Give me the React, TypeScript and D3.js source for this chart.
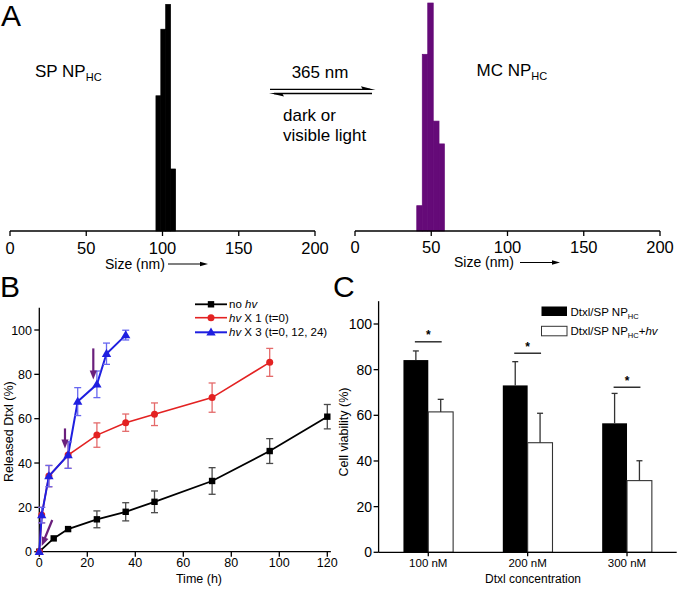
import React from "react";
import * as d3 from "d3";

// ---------- Panel A: size distributions ----------
const sizeTicks = [0, 50, 100, 150, 200];
const spEdges = [95.7, 98.9, 102.1, 105.3, 108.6];
const spCounts = [59.3, 88.5, 99.4, 27.2];
const mcEdges = [40.5, 44.1, 47.7, 51.3, 55.1, 58.6];
const mcCounts = [11.1, 77.5, 100, 48.2, 38.2];

// ---------- Panel B: release ----------
const timeTicks = [0, 20, 40, 60, 80, 100, 120];
const releaseTicks = [0, 20, 40, 60, 80, 100];
const noHvTime = [0, 6, 12, 24, 36, 48, 72, 96, 120];
const noHvValue = [0, 6.0, 10.2, 14.6, 18.0, 22.5, 31.9, 45.4, 60.9];
const noHvErr = [0, 0.8, 0.8, 3.8, 4.1, 4.9, 6.0, 5.6, 5.5];
const hv1Time = [0, 1, 4, 12, 24, 36, 48, 72, 96];
const hv1Value = [0, 16.5, 34.1, 43.6, 52.6, 58.2, 62.0, 69.5, 85.4];
const hv1Err = [0, 3.5, 4.8, 6.0, 5.5, 3.9, 5.1, 6.6, 6.3];
const hv3Time = [0, 1, 4, 12, 16, 24, 28, 36];
const hv3Value = [0, 16.5, 34.1, 43.6, 67.7, 75.5, 89.3, 97.7];
const hv3Err = [0, 3.5, 4.8, 6.0, 6.3, 6.0, 4.8, 2.2];
const irradFromT = [5.4, 10.7, 22.5];
const irradFromV = [14.3, 55.6, 91.7];
const irradToT = [1.0, 10.7, 22.5];
const irradToV = [2.6, 46.6, 77.7];

// ---------- Panel C: viability ----------
const concLabels = ["100 nM", "200 nM", "300 nM"];
const viabTicks = [0, 20, 40, 60, 80, 100];
const viabDark = [84.2, 73.1, 56.5];
const viabDarkErr = [4.0, 10.4, 13.1];
const viabHv = [61.5, 48.0, 31.4];
const viabHvErr = [5.5, 12.9, 8.7];
const sigLevel = [92.2, 87.2, 72.3];

const FONT = "'Liberation Sans', Arial, Helvetica, sans-serif";
const PURPLE = "#650a78";
const ARROW = "#6a1f7c";

function Arrow({ x1, y1, x2, y2, color, w = 2.2, head = 9, hw = 3.8 }: any) {
  const dx = x2 - x1, dy = y2 - y1;
  const L = Math.sqrt(dx * dx + dy * dy);
  const ux = dx / L, uy = dy / L;
  const bx = x2 - ux * head, by = y2 - uy * head;
  const px = -uy, py = ux;
  return (
    <g>
      <line x1={x1} y1={y1} x2={bx + ux * 1} y2={by + uy * 1} stroke={color} strokeWidth={w} />
      <polygon
        points={`${x2},${y2} ${bx + px * hw},${by + py * hw} ${bx - px * hw},${by - py * hw}`}
        fill={color}
      />
    </g>
  );
}

export default function App() {
  const xA1 = d3.scaleLinear().domain([0, 200]).range([10, 315]);
  const xA2 = d3.scaleLinear().domain([0, 200]).range([355, 660]);
  const yA = d3.scaleLinear().domain([0, 100]).range([231, 3]);
  const xB = d3.scaleLinear().domain([0, 120]).range([39.3, 327.3]);
  const yB = d3.scaleLinear().domain([0, 100]).range([551.7, 330]);
  const xC = d3.scaleLinear().domain([0.5, 3.5]).range([378.6, 676.7]);
  const yC = d3.scaleLinear().domain([0, 100]).range([552.3, 324]);

  const line = d3
    .line<[number, number]>()
    .x((d) => xB(d[0]))
    .y((d) => yB(d[1]));

  const series = [
    { t: noHvTime, v: noHvValue, e: noHvErr, color: "#000000", err: "#4a4a4a", shape: "square", lw: 1.8 },
    { t: hv1Time, v: hv1Value, e: hv1Err, color: "#e32222", err: "#e46a6a", shape: "circle", lw: 1.6 },
    { t: hv3Time, v: hv3Value, e: hv3Err, color: "#1f1fe0", err: "#6767f0", shape: "triangle", lw: 2 },
  ];
  const tri = d3.symbol().type(d3.symbolTriangle).size(38)() as string;

  const marker = (shape: string, x: number, y: number, color: string, key: any) => {
    if (shape === "square") return <rect key={key} x={x - 3.2} y={y - 3.2} width={6.4} height={6.4} fill={color} />;
    if (shape === "circle") return <circle key={key} cx={x} cy={y} r={3.5} fill={color} />;
    return <path key={key} d={tri} transform={`translate(${x},${y + 0.5})`} fill={color} />;
  };

  const sizeAxis = (xs: any, labelX: number, labelY: number, arrowX1: number, arrowX2: number, arrowY: number, tickY: number) => (
    <g>
      <line x1={xs(0)} x2={xs(200)} y1={231} y2={231} stroke="#000" strokeWidth={1.3} />
      {sizeTicks.map((t) => (
        <g key={t}>
          <line x1={xs(t)} x2={xs(t)} y1={231} y2={236} stroke="#000" strokeWidth={1.3} />
          <text x={xs(t)} y={tickY} textAnchor="middle" fontSize={16.5}>
            {t}
          </text>
        </g>
      ))}
      <text x={labelX} y={labelY} fontSize={14}>
        Size (nm)
      </text>
      <Arrow x1={arrowX1} y1={arrowY} x2={arrowX2} y2={arrowY} color="#000" w={1.2} head={8} hw={2.2} />
    </g>
  );

  const bw = 0.25;

  return (
    <svg
      width={680}
      height={590}
      style={{ position: "absolute", left: 0, top: 0, background: "#fff" }}
      fontFamily={FONT}
    >
      <rect x={0} y={0} width={680} height={590} fill="#fff" />
      {/* ===== Panel A ===== */}
      <text x={1} y={26} fontSize={30}>A</text>
      {spCounts.map((c, i) => (
        <rect
          key={"sp" + i}
          x={xA1(spEdges[i])}
          y={yA(c)}
          width={xA1(spEdges[i + 1]) - xA1(spEdges[i])}
          height={yA(0) - yA(c)}
          fill="#000"
          stroke="#000"
          strokeWidth={0.7}
        />
      ))}
      {mcCounts.map((c, i) => (
        <rect
          key={"mc" + i}
          x={xA2(mcEdges[i])}
          y={yA(c)}
          width={xA2(mcEdges[i + 1]) - xA2(mcEdges[i])}
          height={yA(0) - yA(c)}
          fill={PURPLE}
          stroke={PURPLE}
          strokeWidth={0.7}
        />
      ))}
      {sizeAxis(xA1, 105, 268.5, 168, 208, 264, 254)}
      {sizeAxis(xA2, 454, 267, 520, 560, 262.5, 252.5)}
      <text x={35} y={77} fontSize={17}>
        SP NP<tspan fontSize={11} dy={4}>HC</tspan>
      </text>
      <text x={476.5} y={75.5} fontSize={17}>
        MC NP<tspan fontSize={11} dy={4}>HC</tspan>
      </text>
      <text x={320} y={77.5} fontSize={17} textAnchor="middle">365 nm</text>
      <line x1={270} x2={370} y1={89.3} y2={89.3} stroke="#000" strokeWidth={1.3} />
      <polygon points="375.5,89.9 361,86.3 363,89.9" fill="#000" />
      <line x1={274} x2={372} y1={93.5} y2={93.5} stroke="#000" strokeWidth={1.3} />
      <polygon points="269,93.0 284,96.6 282,93.0" fill="#000" />
      <text x={283} y={121} fontSize={17}>dark or</text>
      <text x={283} y={141} fontSize={17}>visible light</text>

      {/* ===== Panel B ===== */}
      <text x={0} y={297} fontSize={30}>B</text>
      <line x1={xB(0)} x2={xB(0)} y1={yB(0)} y2={yB(110)} stroke="#000" strokeWidth={1.3} />
      <line x1={xB(0)} x2={xB(121.5)} y1={yB(0)} y2={yB(0)} stroke="#000" strokeWidth={1.3} />
      {releaseTicks.map((t) => (
        <g key={"by" + t}>
          <line x1={xB(0) - 5} x2={xB(0)} y1={yB(t)} y2={yB(t)} stroke="#000" strokeWidth={1.3} />
          <text x={32} y={yB(t) + 4.5} textAnchor="end" fontSize={12.5}>{t}</text>
        </g>
      ))}
      {timeTicks.map((t) => (
        <g key={"bx" + t}>
          <line x1={xB(t)} x2={xB(t)} y1={yB(0)} y2={yB(0) + 5} stroke="#000" strokeWidth={1.3} />
          <text x={xB(t)} y={567} textAnchor="middle" fontSize={12.5}>{t}</text>
        </g>
      ))}
      <text x={199} y={582.5} textAnchor="middle" fontSize={12.5}>Time (h)</text>
      <text transform="translate(12.5,431.7) rotate(-90)" textAnchor="middle" fontSize={12.5}>
        Released Dtxl (%)
      </text>
      {series.map((s, si) => (
        <g key={"s" + si}>
          <path
            d={line(s.t.map((t, i) => [t, s.v[i]] as [number, number])) as string}
            fill="none"
            stroke={s.color}
            strokeWidth={s.lw}
          />
          {s.t.map((t, i) =>
            s.e[i] > 1 ? (
              <g key={"e" + i} stroke={s.err} strokeWidth={1.3}>
                <line x1={xB(t)} x2={xB(t)} y1={yB(s.v[i] - s.e[i])} y2={yB(s.v[i] + s.e[i])} />
                <line x1={xB(t) - 3.5} x2={xB(t) + 3.5} y1={yB(s.v[i] - s.e[i])} y2={yB(s.v[i] - s.e[i])} />
                <line x1={xB(t) - 3.5} x2={xB(t) + 3.5} y1={yB(s.v[i] + s.e[i])} y2={yB(s.v[i] + s.e[i])} />
              </g>
            ) : null
          )}
          {s.t.map((t, i) => marker(s.shape, xB(t), yB(s.v[i]), s.color, "m" + i))}
        </g>
      ))}
      {irradFromT.map((t, i) => (
        <Arrow
          key={"ir" + i}
          x1={xB(t)}
          y1={yB(irradFromV[i])}
          x2={xB(irradToT[i])}
          y2={yB(irradToV[i])}
          color={ARROW}
          w={2.2}
          head={9}
          hw={3.6}
        />
      ))}
      {/* legend B */}
      {[
        { label: "no ", tail: "", y: 304.3 },
        { label: "", tail: " X 1 (t=0)", y: 317.7 },
        { label: "", tail: " X 3 (t=0, 12, 24)", y: 332.3 },
      ].map((l, i) => (
        <g key={"lb" + i}>
          <line x1={195} x2={227} y1={l.y} y2={l.y} stroke={series[i].color} strokeWidth={series[i].lw} />
          {marker(series[i].shape, 211, l.y, series[i].color, "lm" + i)}
          <text x={229} y={l.y + 4} fontSize={11.5}>
            {l.label}
            <tspan fontStyle="italic">hv</tspan>
            {l.tail}
          </text>
        </g>
      ))}

      {/* ===== Panel C ===== */}
      <text x={333} y={297} fontSize={30}>C</text>
      {concLabels.map((c, i) => {
        const cx = i + 1;
        return (
          <g key={"c" + i}>
            <rect
              x={xC(cx - bw)}
              y={yC(viabDark[i])}
              width={xC(cx) - xC(cx - bw)}
              height={yC(0) - yC(viabDark[i])}
              fill="#000"
            />
            <rect
              x={xC(cx)}
              y={yC(viabHv[i])}
              width={xC(cx + bw) - xC(cx)}
              height={yC(0) - yC(viabHv[i])}
              fill="#fff"
              stroke="#333"
              strokeWidth={1.1}
            />
            <g stroke="#333" strokeWidth={1.3}>
              <line x1={xC(cx - bw / 2)} x2={xC(cx - bw / 2)} y1={yC(viabDark[i])} y2={yC(viabDark[i] + viabDarkErr[i])} />
              <line x1={xC(cx - bw / 2) - 3} x2={xC(cx - bw / 2) + 3} y1={yC(viabDark[i] + viabDarkErr[i])} y2={yC(viabDark[i] + viabDarkErr[i])} />
              <line x1={xC(cx + bw / 2)} x2={xC(cx + bw / 2)} y1={yC(viabHv[i])} y2={yC(viabHv[i] + viabHvErr[i])} />
              <line x1={xC(cx + bw / 2) - 3} x2={xC(cx + bw / 2) + 3} y1={yC(viabHv[i] + viabHvErr[i])} y2={yC(viabHv[i] + viabHvErr[i])} />
            </g>
            <line x1={xC(cx - 0.135)} x2={xC(cx + 0.135)} y1={yC(sigLevel[i])} y2={yC(sigLevel[i])} stroke="#222" strokeWidth={1.4} />
            <text x={xC(cx)} y={yC(sigLevel[i]) - 2.5} textAnchor="middle" fontSize={12} fontWeight="bold">*</text>
            <line x1={xC(cx)} x2={xC(cx)} y1={yC(0)} y2={yC(0) + 4} stroke="#000" strokeWidth={1.3} />
            <text x={xC(cx)} y={566.5} textAnchor="middle" fontSize={11.5}>{c}</text>
          </g>
        );
      })}
      <line x1={xC(0.5)} x2={xC(0.5)} y1={yC(0)} y2={yC(110)} stroke="#000" strokeWidth={1.3} />
      <line x1={xC(0.5)} x2={xC(3.5)} y1={yC(0)} y2={yC(0)} stroke="#000" strokeWidth={1.3} />
      {viabTicks.map((t) => (
        <g key={"cy" + t}>
          <line x1={xC(0.5) - 5} x2={xC(0.5)} y1={yC(t)} y2={yC(t)} stroke="#000" strokeWidth={1.3} />
          <text x={372} y={yC(t) + 5} textAnchor="end" fontSize={14}>{t}</text>
        </g>
      ))}
      <text x={533} y={582.5} textAnchor="middle" fontSize={12}>Dtxl concentration</text>
      <text transform="translate(347.5,432) rotate(-90)" textAnchor="middle" fontSize={12.5}>
        Cell viability (%)
      </text>
      {/* legend C */}
      <rect x={541.5} y={306.5} width={25.5} height={9.5} fill="#000" />
      <rect x={541.5} y={326.3} width={25.5} height={9.5} fill="#fff" stroke="#333" strokeWidth={1} />
      <text x={570.5} y={315.5} fontSize={11.5}>
        Dtxl/SP NP<tspan fontSize={7.5} dy={3}>HC</tspan>
      </text>
      <text x={570.5} y={335.3} fontSize={11.5}>
        Dtxl/SP NP<tspan fontSize={7.5} dy={3}>HC</tspan>
        <tspan dy={-3}>+</tspan>
        <tspan fontStyle="italic">hv</tspan>
      </text>
    </svg>
  );
}
